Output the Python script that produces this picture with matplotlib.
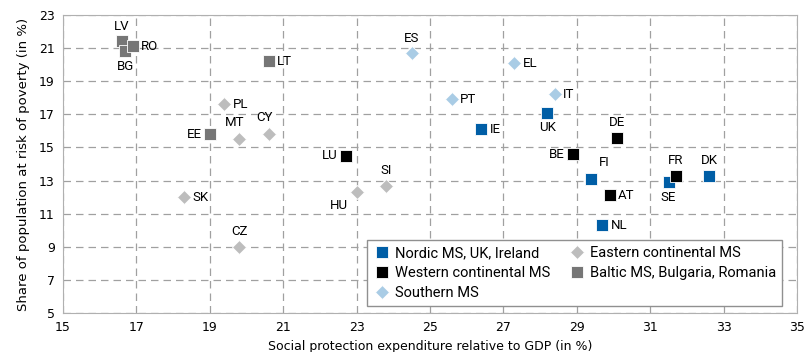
import numpy as np
import matplotlib.pyplot as plt

# social protection expenditure (% of GDP) and at-risk-of-poverty share (%)
nordic = ["UK", "IE", "FI", "NL", "SE", "DK"]
nordic_x = [28.2, 26.4, 29.4, 29.7, 31.5, 32.6]
nordic_y = [17.1, 16.1, 13.1, 10.3, 12.9, 13.3]

western = ["LU", "BE", "DE", "AT", "FR"]
western_x = [22.7, 28.9, 30.1, 29.9, 31.7]
western_y = [14.5, 14.6, 15.6, 12.1, 13.3]

southern = ["ES", "EL", "PT", "IT"]
southern_x = [24.5, 27.3, 25.6, 28.4]
southern_y = [20.7, 20.1, 17.9, 18.2]

eastern = ["PL", "MT", "CY", "SK", "HU", "SI", "CZ"]
eastern_x = [19.4, 19.8, 20.6, 18.3, 23.0, 23.8, 19.8]
eastern_y = [17.6, 15.5, 15.8, 12.0, 12.3, 12.7, 9.0]

baltic = ["LV", "BG", "RO", "LT", "EE"]
baltic_x = [16.6, 16.7, 16.9, 20.6, 19.0]
baltic_y = [21.4, 20.8, 21.1, 20.2, 15.8]

# label placement (offset in points, alignment)
R = (6, 0, "left", "center")
L = (-6, 0, "right", "center")
U = (0, 6, "center", "bottom")
D = (0, -6, "center", "top")
label_pos = {
    "UK": D, "IE": R, "FI": (5, 7, "left", "bottom"), "NL": R, "SE": D, "DK": U,
    "LU": L, "BE": L, "DE": U, "AT": R, "FR": U,
    "ES": U, "EL": R, "PT": R, "IT": R,
    "PL": R, "MT": (-3, 7, "center", "bottom"), "CY": (-3, 7, "center", "bottom"),
    "SK": R, "HU": (-6, -5, "right", "top"), "SI": U, "CZ": U,
    "LV": U, "BG": D, "RO": R, "LT": R, "EE": L,
}

groups = [
    ("Nordic MS, UK, Ireland", nordic, nordic_x, nordic_y, "#005ea6", "s", 8),
    ("Western continental MS", western, western_x, western_y, "#000000", "s", 8),
    ("Southern MS", southern, southern_x, southern_y, "#a9cce5", "D", 7.5),
    ("Eastern continental MS", eastern, eastern_x, eastern_y, "#bdbdbd", "D", 7.5),
    ("Baltic MS, Bulgaria, Romania", baltic, baltic_x, baltic_y, "#767676", "s", 8),
]

lab_font = ["Roboto", "DejaVu Sans"]

fig = plt.figure(figsize=(8.09, 3.52), dpi=100)
ax = fig.add_axes([63 / 809, 1 - 313 / 352, 734 / 809, 298 / 352])

for name, codes, xs, ys, col, mk, ms in groups:
    ax.plot(xs, ys, ls="none", marker=mk, ms=ms, color=col, mec="white",
            mew=0.6, label=name, zorder=3)
    for c, x, y in zip(codes, xs, ys):
        dx, dy, ha, va = label_pos[c]
        ax.annotate(c, (x, y), xytext=(dx, dy), textcoords="offset points",
                    ha=ha, va=va, fontsize=9.5, family=lab_font, zorder=4)

ax.set_xlim(15, 35)
ax.set_ylim(5, 23)
ax.set_xticks(np.arange(15, 36, 2))
ax.set_yticks(np.arange(5, 24, 2))
ax.grid(True, ls=(0, (6, 4)), color="#a0a0a0", lw=0.9)
ax.set_axisbelow(True)
for s in ax.spines.values():
    s.set_color("#b0b0b0")
ax.tick_params(length=0, labelsize=9, pad=6)
ax.set_xlabel("Social protection expenditure relative to GDP (in %)", fontsize=9, labelpad=4)
ax.set_ylabel("Share of population at risk of poverty (in %)", fontsize=9.5, labelpad=6)

ax.legend(ncol=2, loc="lower left", bbox_to_anchor=(0.4146, 0.0235),
          prop={"family": lab_font, "size": 10.5},
          frameon=True, fancybox=False, edgecolor="#909090", framealpha=1,
          handletextpad=0.3, columnspacing=1.2, borderpad=0.4, labelspacing=0.42,
          handlelength=1.2, borderaxespad=0)

fig.savefig("out.png", dpi=100)
